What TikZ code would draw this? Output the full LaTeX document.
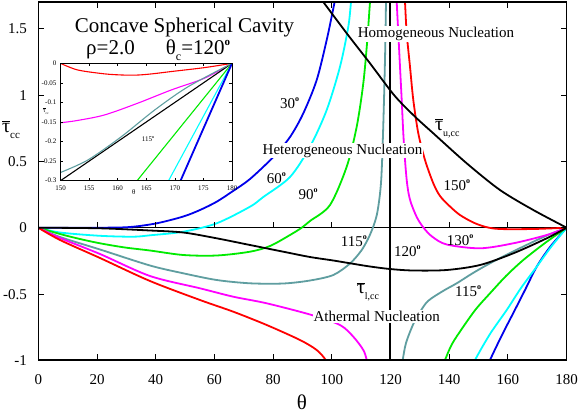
\documentclass[tikz,border=0pt]{standalone}
\usepackage{fontspec}
\setmainfont{Liberation Serif}
\definecolor{cblue}{RGB}{0,0,235}
\definecolor{ccyan}{RGB}{0,255,255}
\definecolor{cgreen}{RGB}{0,235,0}
\definecolor{cteal}{RGB}{95,158,160}
\definecolor{cmag}{RGB}{255,0,255}
\definecolor{cred}{RGB}{255,0,0}
\newcommand{\dg}{\raisebox{0.45em}{\fontsize{8}{8}\selectfont\bfseries o}}
\newcommand{\dgbig}{\raisebox{0.45em}{\fontsize{11}{11}\selectfont\bfseries o}}
\newcommand{\tb}{\ensuremath{\overline{\mbox{τ}}}}
\newcommand{\sbs}[1]{\raisebox{-0.3em}{\fontsize{10}{10}\selectfont #1}}
\begin{document}
\begin{tikzpicture}[x=1pt,y=-1pt,
  crv/.style={line width=1.8pt, line join=round},
  frm/.style={line width=1.3pt},
  tck/.style={line width=1pt},
  tlab/.style={font=\fontsize{15}{15}\selectfont, inner sep=0pt},
  reg/.style={font=\fontsize{15}{15}\selectfont, fill=white, inner sep=1pt, anchor=base},
  dlab/.style={font=\fontsize{15}{15}\selectfont, inner sep=0pt, anchor=base west},
  ilab/.style={font=\fontsize{7}{7}\selectfont, inner sep=0pt},
  icrv/.style={line width=1.1pt}]
\useasboundingbox (0,0) rectangle (581,416);
\fill[white] (0,0) rectangle (581,416);

% zero line
\draw[line width=1.2pt] (38.3,227.7) -- (566.7,227.7);

\begin{scope}
\clip (38.3,2) rectangle (566.7,360);
% 30 deg blue
\draw[crv,cblue] plot[smooth] coordinates {(38.3,227.7) (100,227.7) (130,227) (156.7,223.3) (183.3,216.5) (200,210) (216.7,201.7) (233,191) (250,179) (273.3,157) (290,137) (303.3,113.3) (316.7,80) (326.7,40) (333,10) (336,-5)};
\draw[crv,cblue] plot[smooth] coordinates {(487,368) (490,360) (502,335) (513.3,313) (525,290) (536.7,266.7) (550,247) (566.7,227.7)};
% 60 deg cyan
\draw[crv,ccyan] plot[smooth] coordinates {(38.3,227.7) (60,232.5) (100,235.8) (133.3,236.7) (150,235.3) (183.3,231.7) (216.7,223.3) (250,206.7) (263.3,197) (290,177) (310,146.7) (326.7,110) (340,66.7) (348.3,26.7) (351,2) (352,-5)};
\draw[crv,ccyan] plot[smooth] coordinates {(472,368) (475,360) (490,334) (506.7,310) (521,288) (536.7,266.7) (551,247) (566.7,227.7)};
% 90 deg green
\draw[crv,cgreen] plot[smooth] coordinates {(38.3,227.7) (60,234) (80,239) (100,243.3) (125,247.5) (150,250.5) (183.3,255) (216.7,255.5) (250,251.7) (270,246) (290,235) (301.7,227.7) (310,221) (330,205) (346.7,166.7) (356.7,126.7) (363.3,83.3) (367.3,40) (370,2) (371,-5)};
\draw[crv,cgreen] plot[smooth] coordinates {(442,368) (445,360) (452,344) (463.3,326.7) (476,309) (490,293.3) (506,276) (523.3,260) (545,243) (566.7,227.7)};
% 115 deg teal
\draw[crv,cteal] plot[smooth] coordinates {(38.3,227.7) (60,237) (100,249.5) (150,265.5) (183.3,273.3) (216.7,280) (250,283.3) (283.3,283.5) (310,280.5) (333.3,275) (350,263.5) (361,251) (368,239) (373.5,226) (377,214) (379.5,198) (381.2,180) (382.5,150) (384,100) (385.2,50) (386,2) (386.2,-5)};
\draw[crv,cteal] plot[smooth] coordinates {(401.5,368) (402.7,360) (406,343) (413.3,324) (420,312) (428,301) (443,291) (456.7,283.3) (473,273) (490,263.3) (510,253) (530,243.3) (548,235) (566.7,227.7)};
% 130 deg magenta
\draw[crv,cmag] plot[smooth] coordinates {(38.3,227.7) (60,238) (100,254) (150,276) (200,288.3) (233.3,296.7) (266.7,303.3) (311.7,315) (340,325) (353.3,336.7) (363.3,350) (366.7,360) (367.5,368)};
\draw[crv,cmag] plot[smooth] coordinates {(396.5,-5) (396.7,2) (398.3,33.3) (400,66.7) (401.7,100) (403.3,133.3) (405,160) (406.7,180) (408.5,193) (411,203) (416.7,217) (423,227) (432,236.5) (446.7,244.5) (480,248.3) (513.3,243.3) (546.7,235) (566.7,227.7)};
% 150 deg red
\draw[crv,cred] plot[smooth] coordinates {(38.3,227.7) (60,240) (100,258) (150,281) (200,300) (233.3,311.7) (266.7,325) (300,340) (316.7,350) (325.7,360) (328,368)};
\draw[crv,cred] plot[smooth] coordinates {(404.5,-5) (405,2) (406.7,33.3) (410,66.7) (413.3,100) (418.3,133.3) (425,160) (433.3,183.3) (440,196) (450,206.5) (460,215) (473.3,222.5) (486,227) (500,229) (533.3,229) (566.7,227.7)};
% black bounds
\draw[crv,black] plot[smooth] coordinates {(38.3,227.7) (100,228.3) (150,230.5) (183.3,232.5) (216.7,238.3) (250,245) (283.3,251.7) (310,257) (333.3,260.5) (366.7,266) (390,269) (413.3,270.5) (446.7,270) (480,265) (513.3,253.3) (546.7,238.3) (566.7,227.7)};
\draw[crv,black] plot[smooth] coordinates {(318,-5) (323.3,2) (346.7,33.3) (370,63.3) (390,90) (400,101.7) (416.7,118.3) (433.3,133.3) (466.7,163.3) (500,190) (533.3,210) (566.7,227.7)};
\draw[crv,black] (390,2) -- (390,360);
\end{scope}

% frame
\draw[frm] (38.3,2) rectangle (566.7,360);
\foreach \t [count=\i] in {0,20,...,180} {
  \pgfmathsetmacro\px{38.3+2.935*\t}
  \draw[tck] (\px,360) -- (\px,354);
  \draw[tck] (\px,2) -- (\px,8);
  \draw[tck] (\px,227.7) -- (\px,221.7);
  \node[tlab, anchor=base] (xl\i) at (\px,384) {\t};
}
\foreach \v/\lab [count=\i] in {-1/-1,-0.5/-0.5,0/0,0.5/0.5,1/1,1.5/1.5} {
  \pgfmathsetmacro\py{227.7-132.7*\v}
  \draw[tck] (38.3,\py) -- (44.3,\py);
  \draw[tck] (566.7,\py) -- (560.7,\py);
  \node[tlab, anchor=base east] (yl\i) at (27,\py+5) {\lab};
}
\node[font=\fontsize{21}{21}\selectfont, inner sep=0pt, anchor=base] (xlab) at (302,409) {θ};
\node[font=\fontsize{20}{20}\selectfont, inner sep=0pt, anchor=base west] (ylab) at (2,132) {\tb\raisebox{-0.3em}{\fontsize{11}{11}\selectfont cc}};

% region labels
\node[reg] (homo) at (436,37.5) {Homogeneous Nucleation};
\node[reg] (hetero) at (342.5,154) {Heterogeneous Nucleation};
\node[reg] (ather) at (376.7,321.7) {Athermal Nucleation};

% angle labels
\node[dlab] (d30) at (280,108.3) {30\dg};
\node[dlab] (d60) at (266.7,183.3) {60\dg};
\node[dlab] (d90) at (298.3,199.3) {90\dg};
\node[dlab] (d115a) at (340.7,246.7) {115\dg};
\node[dlab] (d120) at (394,256.7) {120\dg};
\node[dlab] (d130) at (446.7,245.7) {130\dg};
\node[dlab] (d115b) at (455,296.7) {115\dg};
\node[dlab] (d150) at (443.3,190) {150\dg};
\node[font=\fontsize{20}{20}\selectfont, inner sep=0pt, anchor=base west] (tu) at (435,130) {\tb\sbs{u,cc}};
\node[font=\fontsize{20}{20}\selectfont, inner sep=0pt, anchor=base west, fill=white] (tl) at (356.7,293.3) {\tb\sbs{l,cc}};

% title
\node[font=\fontsize{21}{21}\selectfont, inner sep=0pt, anchor=base] (title) at (184.5,32) {Concave Spherical Cavity};
\node[font=\fontsize{21}{21}\selectfont, inner sep=0pt, anchor=base west] (rho) at (86,54.5) {ρ=2.0};
\node[font=\fontsize{21}{21}\selectfont, inner sep=0pt, anchor=base west] (thc) at (165.7,54.5) {θ\raisebox{-0.3em}{\fontsize{12}{12}\selectfont c}=120\dgbig};

% inset
\fill[white] (60.5,63.3) rectangle (232,180.7);
\begin{scope}[shift={(60.5,63.3)}, x=5.717pt, y=391.3pt]
  \begin{scope}
  \clip (0,-0.3) rectangle (30,0);
  \draw[icrv,cred] plot[smooth] coordinates {(0,0) (3,-0.017) (7.7,-0.027) (11,-0.030) (13.5,-0.030) (16,-0.027) (19.4,-0.021) (25.2,-0.011) (30,0)};
  \draw[icrv,cmag] plot[smooth] coordinates {(0,-0.152) (3,-0.146) (7.7,-0.132) (13.5,-0.102) (19.4,-0.068) (25.2,-0.038) (30,0)};
  \draw[icrv,black] (0,-0.3) -- (30,0);
  \draw[icrv,cteal] plot[smooth] coordinates {(0,-0.279) (4.8,-0.247) (10.6,-0.188) (16.5,-0.119) (22.3,-0.060) (30,0)};
  \draw[icrv,cgreen] (13.4,-0.3) -- (30,0);
  \draw[icrv,ccyan] (18.9,-0.3) -- (30,0);
  \draw[line width=1.8pt,cblue] (21,-0.3) -- (30,0);
  \end{scope}
  \draw[line width=0.9pt] (0,-0.3) rectangle (30,0);
  \foreach \t [count=\i] in {150,155,...,180} {
    \draw[line width=0.5pt] (\t-150,-0.3) -- (\t-150,-0.293);
    \draw[line width=0.5pt] (\t-150,0) -- (\t-150,-0.007);
    \node[ilab, anchor=base] (ixl\i) at (\t-150,-0.326) {\t};
  }
  \foreach \v/\lab [count=\i] in {0/0,-0.05/-0.05,-0.1/-0.1,-0.15/-0.15,-0.2/-0.2,-0.25/-0.25,-0.3/-0.3} {
    \draw[line width=0.5pt] (0,\v) -- (0.5,\v);
    \draw[line width=0.5pt] (30,\v) -- (29.5,\v);
    \node[ilab, anchor=east] (iyl\i) at (-0.7,\v) {\lab};
  }
\end{scope}
\node[ilab] (ixlab) at (133.7,191.7) {θ};
\node[ilab] (i115) at (148,139) {115\raisebox{0.4em}{\fontsize{4}{4}\selectfont\bfseries o}};
\node[font=\fontsize{6}{6}\selectfont, inner sep=0pt] (iylab) at (46,111) {\tb\raisebox{-0.3em}{\fontsize{3.5}{3.5}\selectfont cc}};
\end{tikzpicture}
\end{document}
